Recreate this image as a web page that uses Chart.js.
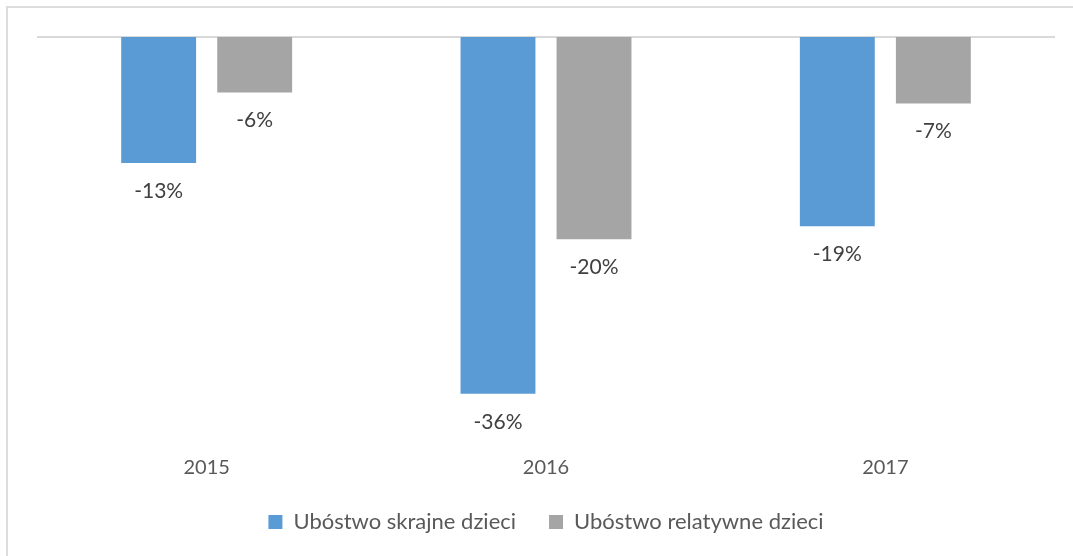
<!DOCTYPE html>
<html><head><meta charset="utf-8">
<script src="https://cdn.jsdelivr.net/npm/chart.js@4/dist/chart.umd.min.js"></script>
<style>
html,body{margin:0;padding:0;background:#fff;overflow:hidden;width:1073px;height:556px}
#frame{position:absolute;left:6px;top:6px;width:1100px;height:600px;border:2px solid #dcdcdc;box-sizing:border-box}
#wrap{position:absolute;left:0;top:0;width:1073px;height:556px}
</style></head>
<body><div id="frame"></div><div id="wrap"><canvas id="c" width="1073" height="556"></canvas></div>
<script>
const categories = ['2015', '2016', '2017'];
const seriesNames = ['Ubóstwo skrajne dzieci', 'Ubóstwo relatywne dzieci'];
const extremePoverty = [-12.7, -36.0, -19.1];
const relativePoverty = [-5.6, -20.4, -6.7];

const FONT = 'Lato';

const zeroLine = {
  id: 'zeroLine',
  beforeDatasetsDraw(chart) {
    const {ctx, chartArea, scales} = chart;
    const y = scales.y.getPixelForValue(0);
    ctx.save();
    ctx.strokeStyle = '#d9d9d9';
    ctx.lineWidth = 2;
    ctx.beginPath();
    ctx.moveTo(chartArea.left, y);
    ctx.lineTo(chartArea.right, y);
    ctx.stroke();
    ctx.restore();
  }
};

const dataLabels = {
  id: 'dataLabels',
  afterDatasetsDraw(chart) {
    const {ctx} = chart;
    ctx.save();
    ctx.font = '21px ' + FONT;
    ctx.fillStyle = '#404040';
    ctx.textAlign = 'center';
    ctx.textBaseline = 'middle';
    chart.data.datasets.forEach((ds, i) => {
      const meta = chart.getDatasetMeta(i);
      meta.data.forEach((el, j) => {
        const v = ds.data[j];
        ctx.fillText(Math.round(v) + '%', el.x, el.y + 28);
      });
    });
    ctx.restore();
  }
};

new Chart(document.getElementById('c'), {
  type: 'bar',
  data: {
    labels: categories,
    datasets: [
      {label: seriesNames[0], data: extremePoverty, backgroundColor: '#5b9bd5', categoryPercentage: 0.566, barPercentage: 0.78},
      {label: seriesNames[1], data: relativePoverty, backgroundColor: '#a5a5a5', categoryPercentage: 0.566, barPercentage: 0.78}
    ]
  },
  options: {
    responsive: false,
    animation: false,
    layout: {padding: {left: 37, right: 18, top: 37, bottom: 13}},
    scales: {
      x: {
        grid: {display: false, drawTicks: false},
        border: {display: false},
        ticks: {color: '#595959', font: {family: FONT, size: 20, lineHeight: 1}, padding: 24.5},
        afterFit(scale) { scale.height = 44.5; }
      },
      y: {display: false, min: -40, max: 0}
    },
    plugins: {
      legend: {
        position: 'bottom',
        labels: {
          boxWidth: 14, boxHeight: 14, padding: 33,
          color: '#595959', font: {family: FONT, size: 22}
        }
      },
      tooltip: {enabled: false}
    }
  },
  plugins: [zeroLine, dataLabels]
});
</script>
</body></html>
